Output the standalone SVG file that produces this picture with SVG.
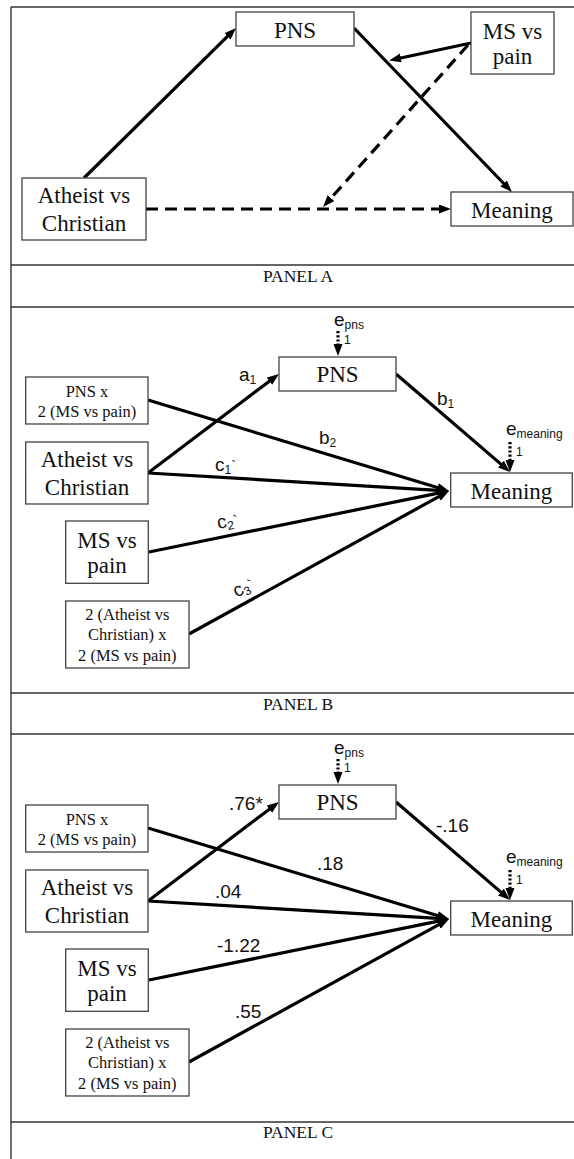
<svg xmlns="http://www.w3.org/2000/svg" width="574" height="1159" viewBox="0 0 574 1159">
<style>
.frame{stroke:#333;stroke-width:1.4;fill:none}
.box{fill:#fff;stroke:#444;stroke-width:1.3}
.big{font-family:"Liberation Serif","Times New Roman",Times,serif;font-size:23px;fill:#111;text-anchor:middle}
.small{font-family:"Liberation Serif","Times New Roman",Times,serif;font-size:16.5px;fill:#111;text-anchor:middle}
.panel{font-family:"Liberation Serif","Times New Roman",Times,serif;font-size:17.5px;fill:#111;text-anchor:middle}
.lab{font-family:"Liberation Sans",Arial,sans-serif;font-size:19px;fill:#111}
.sub{font-size:12px}
.arr{stroke:#000;stroke-width:3.2;fill:none;marker-end:url(#ah)}
.dash{stroke-dasharray:12 7}
.dot{stroke:#000;stroke-width:3.2;fill:none;stroke-dasharray:2.2 2;marker-end:url(#ah)}
</style>
<defs>
<marker id="ah" markerUnits="userSpaceOnUse" markerWidth="13" markerHeight="10" refX="5" refY="4.5" orient="auto">
<path d="M0,0 L12,4.5 L0,9 z" fill="#000"/>
</marker>
</defs>
<rect width="574" height="1159" fill="#fff"/>
<g id="frame">
<path class="frame" d="M11,7 V1159 M11,7 H574 M11,265 H574 M11,307 H574 M11,693 H574 M11,734 H574 M11,1122 H574"/>
<text class="panel" x="298" y="282">PANEL A</text>
<text class="panel" x="298" y="710">PANEL B</text>
<text class="panel" x="298" y="1138">PANEL C</text>
</g>
<g id="connectors">
<line class="arr" x1="84" y1="178" x2="231" y2="32.9"/>
<line class="arr" x1="354" y1="28" x2="507.1" y2="187"/>
<line class="arr" x1="471" y1="43" x2="396" y2="59"/>
<line class="arr dash" x1="468" y1="45" x2="327.7" y2="201.8"/>
<line class="arr dash" x1="146" y1="209" x2="444" y2="209"/>
<line class="arr" x1="148" y1="473" x2="273.4" y2="378.2"/>
<line class="arr" x1="148" y1="400" x2="442.3" y2="489"/>
<line class="arr" x1="148" y1="473" x2="442" y2="490.6"/>
<line class="arr" x1="149" y1="552" x2="442.1" y2="492.4"/>
<line class="arr" x1="189" y1="634" x2="442.9" y2="494.4"/>
<line class="arr" x1="396" y1="374" x2="504.7" y2="467.4"/>
<line class="dot" x1="338" y1="331" x2="338" y2="349"/>
<line class="dot" x1="510" y1="442" x2="510" y2="465"/>
<line class="arr" x1="148" y1="901" x2="273.4" y2="806.2"/>
<line class="arr" x1="148" y1="828" x2="442.3" y2="917"/>
<line class="arr" x1="148" y1="901" x2="442" y2="918.6"/>
<line class="arr" x1="149" y1="980" x2="442.1" y2="920.4"/>
<line class="arr" x1="189" y1="1062" x2="442.9" y2="922.4"/>
<line class="arr" x1="396" y1="802" x2="504.7" y2="895.4"/>
<line class="dot" x1="338" y1="759" x2="338" y2="777"/>
<line class="dot" x1="510" y1="870" x2="510" y2="893"/>
<text class="lab" x="239" y="381">a<tspan class="sub" dy="3">1</tspan></text>
<text class="lab" x="437" y="405">b<tspan class="sub" dy="3">1</tspan></text>
<text class="lab" x="319" y="444">b<tspan class="sub" dy="3">2</tspan></text>
<text class="lab" x="215" y="471">c<tspan class="sub" dy="3">1</tspan><tspan font-size="15" dy="-3">`</tspan></text>
<text class="lab" x="217" y="527" transform="rotate(-11 228 521)">c<tspan class="sub" dy="3">2</tspan><tspan font-size="15" dy="-3">`</tspan></text>
<text class="lab" x="232" y="593" transform="rotate(-28 244 586)">c<tspan class="sub" dy="3">3</tspan><tspan font-size="15" dy="-3">`</tspan></text>
<text class="lab" x="229" y="810">.76*</text>
<text class="lab" x="436" y="832">-.16</text>
<text class="lab" x="317" y="870">.18</text>
<text class="lab" x="215" y="898">.04</text>
<text class="lab" x="217" y="952">-1.22</text>
<text class="lab" x="235" y="1018">.55</text>
</g>
<g id="a-pns"><rect class="box" x="236" y="12" width="118" height="34"/><text class="big" x="295" y="37.5">PNS</text></g>
<g id="a-ms"><rect class="box" x="471" y="12" width="83" height="62"/><text class="big" x="512.5" y="38.5">MS vs</text><text class="big" x="512.5" y="64">pain</text></g>
<g id="a-atheist"><rect class="box" x="22" y="178" width="124" height="62"/><text class="big" x="84" y="203">Atheist vs</text><text class="big" x="84" y="231">Christian</text></g>
<g id="a-meaning"><rect class="box" x="451" y="192" width="122" height="34"/><text class="big" x="512" y="218">Meaning</text></g>
<g id="b-pns"><rect class="box" x="279" y="357" width="117" height="34"/><text class="big" x="337.5" y="382">PNS</text></g>
<g id="b-epns"><text class="lab" x="334" y="326">e<tspan class="sub" dy="3">pns</tspan></text><text class="lab sub" x="344" y="344">1</text></g>
<g id="b-pnsx"><rect class="box" x="25.7" y="377" width="122.3" height="47"/><text class="small" x="87" y="396.5">PNS x</text><text class="small" x="87" y="416.5">2 (MS vs pain)</text></g>
<g id="b-atheist"><rect class="box" x="25.7" y="442" width="122.3" height="62"/><text class="big" x="87" y="467">Atheist vs</text><text class="big" x="87" y="494.5">Christian</text></g>
<g id="b-meaning"><rect class="box" x="450.7" y="473" width="121.6" height="34"/><text class="big" x="511.5" y="499">Meaning</text></g>
<g id="b-emeaning"><text class="lab" x="506" y="435">e<tspan class="sub" dy="3">meaning</tspan></text><text class="lab sub" x="516" y="456">1</text></g>
<g id="b-ms"><rect class="box" x="65.7" y="521" width="82.6" height="62.3"/><text class="big" x="107" y="547.5">MS vs</text><text class="big" x="107" y="572.5">pain</text></g>
<g id="b-inter"><rect class="box" x="65.7" y="601" width="123.3" height="67"/><text class="small" x="127.3" y="619.5">2 (Atheist vs</text><text class="small" x="127.3" y="640">Christian) x</text><text class="small" x="127.3" y="660.5">2 (MS vs pain)</text></g>
<g id="c-pns"><rect class="box" x="279" y="785" width="117" height="34"/><text class="big" x="337.5" y="810">PNS</text></g>
<g id="c-epns"><text class="lab" x="334" y="754">e<tspan class="sub" dy="3">pns</tspan></text><text class="lab sub" x="344" y="772">1</text></g>
<g id="c-pnsx"><rect class="box" x="25.7" y="805" width="122.3" height="47"/><text class="small" x="87" y="824.5">PNS x</text><text class="small" x="87" y="844.5">2 (MS vs pain)</text></g>
<g id="c-atheist"><rect class="box" x="25.7" y="870" width="122.3" height="62"/><text class="big" x="87" y="895">Atheist vs</text><text class="big" x="87" y="922.5">Christian</text></g>
<g id="c-meaning"><rect class="box" x="450.7" y="901" width="121.6" height="34"/><text class="big" x="511.5" y="927">Meaning</text></g>
<g id="c-emeaning"><text class="lab" x="506" y="863">e<tspan class="sub" dy="3">meaning</tspan></text><text class="lab sub" x="516" y="884">1</text></g>
<g id="c-ms"><rect class="box" x="65.7" y="949" width="82.6" height="62.3"/><text class="big" x="107" y="975.5">MS vs</text><text class="big" x="107" y="1000.5">pain</text></g>
<g id="c-inter"><rect class="box" x="65.7" y="1029" width="123.3" height="67"/><text class="small" x="127.3" y="1047.5">2 (Atheist vs</text><text class="small" x="127.3" y="1068">Christian) x</text><text class="small" x="127.3" y="1088.5">2 (MS vs pain)</text></g>
</svg>
